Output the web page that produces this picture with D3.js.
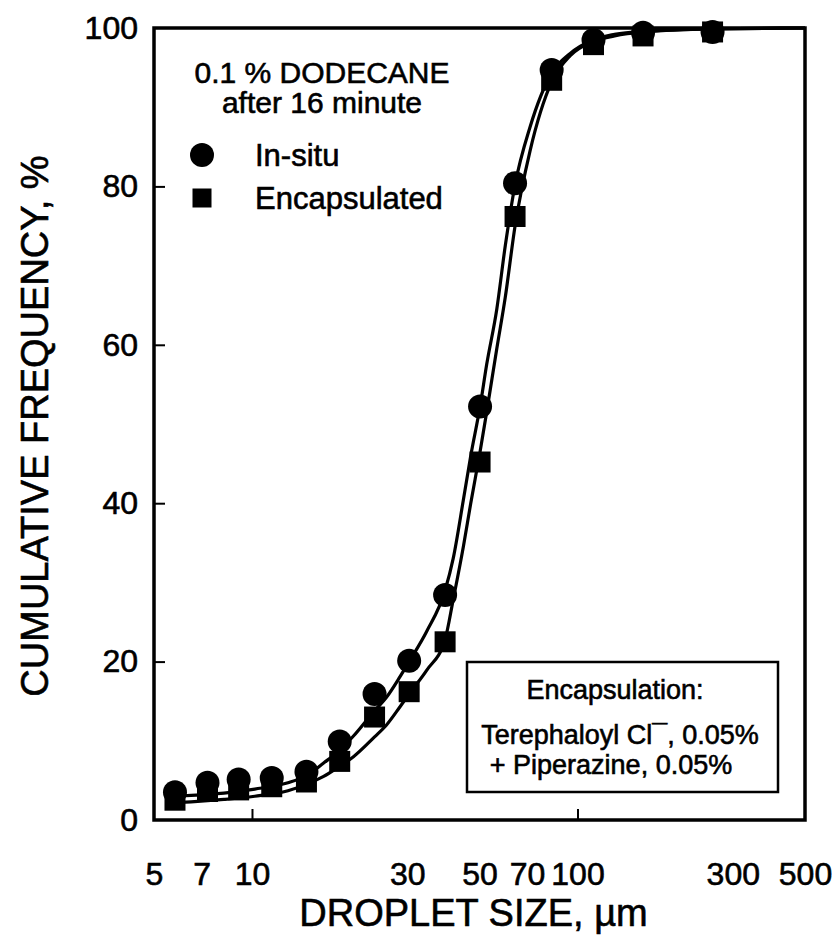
<!DOCTYPE html>
<html>
<head>
<meta charset="utf-8">
<script src="https://cdn.jsdelivr.net/npm/d3@7/dist/d3.min.js"></script>
<style>
  html, body { margin: 0; padding: 0; background: #fff; }
  svg text { font-family: "Liberation Sans", Arial, sans-serif; fill: #000; stroke: #000; stroke-width: 0.6px; }
</style>
</head>
<body>
<svg id="chart" width="840" height="942"></svg>
<script>
// ---------- data ----------
const sizes = [5.8, 7.3, 9.1, 11.5, 14.7, 18.6, 23.8, 30.4, 39.2, 50.2, 64.3, 83.3, 112, 159, 260];
const inSitu = [3.5, 4.7, 5.1, 5.3, 6.1, 9.9, 15.9, 20.1, 28.4, 52.2, 80.4, 94.7, 98.5, 99.4, 99.5];
const encapsulated = [2.5, 3.6, 3.8, 4.2, 4.8, 7.4, 13.0, 16.2, 22.5, 45.2, 76.2, 93.4, 97.9, 99.0, 99.5];

// fitted curves
const fitSizes = [5.8, 6.5, 8.2, 10.2, 12.9, 14.7, 16.6, 18.6, 20.5, 23.8, 25.9, 28.5, 30.5, 34.4, 39.2, 41.5, 44.6, 47, 50.2, 52.6, 56.5, 60, 64.3, 71.5, 83.3, 95, 110, 130, 160, 260, 500];
const fitInSitu = [3.0, 3.1, 3.4, 3.9, 4.7, 5.6, 7.2, 8.8, 10.6, 13.8, 15.5, 18.1, 20.1, 23.8, 29.0, 33.0, 40.4, 46.0, 52.2, 57.5, 64.5, 72.5, 80.2, 87.5, 94.3, 96.8, 98.4, 99.2, 99.6, 99.9, 100];
const fitEncapsulated = [2.2, 2.3, 2.6, 3.0, 3.7, 4.5, 5.5, 6.8, 8.0, 10.5, 12.0, 14.3, 16.0, 18.9, 22.8, 27.8, 34.5, 40.0, 46.5, 51.5, 59.5, 66.0, 75.0, 84.5, 93.2, 96.5, 98.2, 99.0, 99.5, 99.9, 100];

const xTickLabels = [5, 7, 10, 30, 50, 70, 100, 300, 500];
const xTickMarks = [10, 100];
const yTickLabels = [0, 20, 40, 60, 80, 100];

const seriesNames = ["In-situ", "Encapsulated"];
const titleLines = ["0.1 % DODECANE", "after 16 minute"];
const noteLines = ["Encapsulation:", "Terephaloyl Cl\u00AF, 0.05%", "+ Piperazine, 0.05%"];
const xTitle = "DROPLET SIZE, \u00B5m";
const yTitle = "CUMULATIVE FREQUENCY, %";

// ---------- layout ----------
const L = 154, R = 805, T = 28, B = 820;
const svg = d3.select("#chart");

const x = d3.scaleLog().domain([5, 500]).range([L, R]);
const y = d3.scaleLinear().domain([0, 100]).range([B, T]);

// tick marks (inward)
svg.append("g").attr("transform", `translate(0,${B})`)
  .call(d3.axisBottom(x).tickValues(xTickMarks).tickSize(-11).tickFormat(""))
  .call(g => g.select(".domain").remove())
  .call(g => g.selectAll("line").attr("stroke", "#000").attr("stroke-width", 2));
svg.append("g").attr("transform", `translate(${L},0)`)
  .call(d3.axisLeft(y).tickValues([20, 40, 60, 80]).tickSize(-11).tickFormat(""))
  .call(g => g.select(".domain").remove())
  .call(g => g.selectAll("line").attr("stroke", "#000").attr("stroke-width", 2));

// tick labels
svg.append("g").attr("transform", `translate(0,${B})`)
  .call(d3.axisBottom(x).tickValues(xTickLabels).tickSize(0).tickPadding(42).tickFormat(d3.format("d")))
  .call(g => g.select(".domain").remove())
  .call(g => g.selectAll("text").attr("font-size", 32).attr("font-family", "Liberation Sans, Arial, sans-serif"));
svg.append("g").attr("transform", `translate(${L},0)`)
  .call(d3.axisLeft(y).tickValues(yTickLabels).tickSize(0).tickPadding(16).tickFormat(d3.format("d")))
  .call(g => g.select(".domain").remove())
  .call(g => g.selectAll("text").attr("font-size", 32).attr("font-family", "Liberation Sans, Arial, sans-serif"));

// frame
svg.append("rect").attr("x", L).attr("y", T).attr("width", R - L).attr("height", B - T)
  .attr("fill", "none").attr("stroke", "#000").attr("stroke-width", 3.5);

// axis titles
svg.append("text").attr("x", (L + R) / 2 - 6).attr("y", 926).attr("text-anchor", "middle")
  .attr("font-size", 38).text(xTitle);
svg.append("text").attr("transform", `translate(48,${(T + B) / 2 + 2}) rotate(-90)`)
  .attr("text-anchor", "middle").attr("font-size", 38).text(yTitle);

// fitted curves
const line = d3.line().x(d => x(d[0])).y(d => y(d[1])).curve(d3.curveMonotoneX);
const plot = svg.append("g");
[fitInSitu, fitEncapsulated].forEach(vals => {
  plot.append("path").datum(fitSizes.map((s, i) => [s, vals[i]]))
    .attr("d", line).attr("fill", "none").attr("stroke", "#000").attr("stroke-width", 3.2);
});

// markers
const R_CIRC = 12, SQ = 21;
plot.selectAll("rect.enc").data(sizes.map((s, i) => [s, encapsulated[i]])).join("rect")
  .attr("class", "enc")
  .attr("x", d => x(d[0]) - SQ / 2).attr("y", d => y(d[1]) - SQ / 2)
  .attr("width", SQ).attr("height", SQ).attr("fill", "#000");
plot.selectAll("circle.ins").data(sizes.map((s, i) => [s, inSitu[i]])).join("circle")
  .attr("class", "ins")
  .attr("cx", d => x(d[0])).attr("cy", d => y(d[1])).attr("r", R_CIRC).attr("fill", "#000");

// legend block
const lg = svg.append("g");
lg.selectAll("text.title").data(titleLines).join("text").attr("class", "title")
  .attr("x", 322).attr("y", (d, i) => 83 + i * 30).attr("text-anchor", "middle")
  .attr("font-size", 30).text(d => d);
lg.append("circle").attr("cx", 202).attr("cy", 155).attr("r", R_CIRC).attr("fill", "#000");
lg.append("rect").attr("x", 202 - 9.5).attr("y", 198 - 9.5).attr("width", 19).attr("height", 19).attr("fill", "#000");
lg.selectAll("text.item").data(seriesNames).join("text").attr("class", "item")
  .attr("x", 255).attr("y", (d, i) => 166 + i * 43).attr("font-size", 31).text(d => d);

// note box
const nb = svg.append("g");
nb.append("rect").attr("x", 467).attr("y", 662).attr("width", 311).attr("height", 130)
  .attr("fill", "#fff").attr("stroke", "#000").attr("stroke-width", 2.5);
nb.selectAll("text").data(noteLines).join("text")
  .attr("x", (d, i) => i === 0 ? 615 : (i === 1 ? 620 : 611))
  .attr("y", (d, i) => [699, 744, 774][i]).attr("text-anchor", "middle")
  .attr("font-size", 27).text(d => d);
</script>
</body>
</html>
